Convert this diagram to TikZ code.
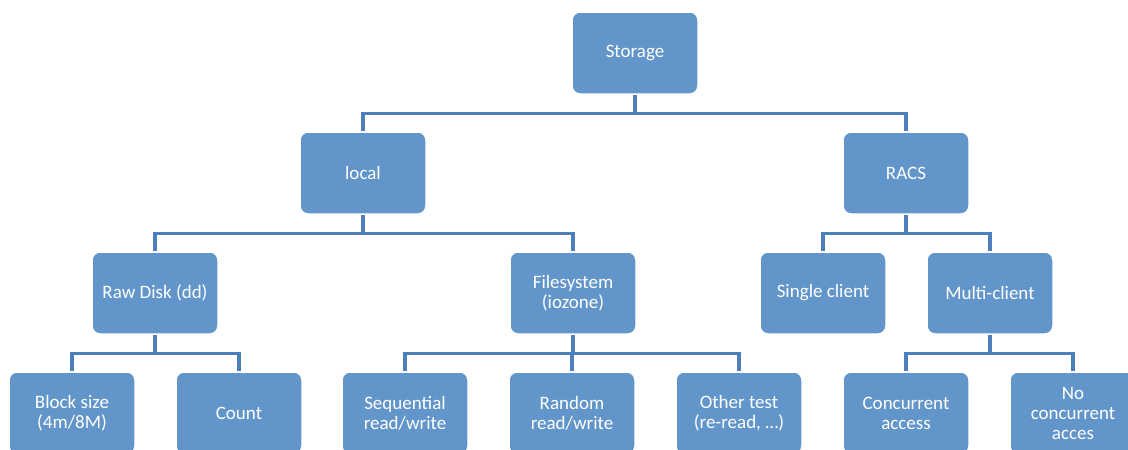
\documentclass[tikz,border=0pt]{standalone}
\usepackage{fontspec}
\setmainfont{Carlito}
\usetikzlibrary{positioning, calc}

\definecolor{boxblue}{RGB}{98,150,202}
\definecolor{lineblue}{RGB}{76,128,188}

\tikzset{
    box/.style={draw=white, line width=1.5pt, fill=boxblue, rounded corners=8pt,
        minimum width=126pt, minimum height=82pt, align=center, inner sep=2pt,
        text=white, font=\fontsize{19}{20}\selectfont},
    link/.style={draw=lineblue, line width=3.2pt}
}

\begin{document}
\begin{tikzpicture}[x=1pt, y=-1pt]
        \useasboundingbox (0,0) rectangle (1128,450);
        \clip (0,0) rectangle (1128,450);

        % Top level
        \node[box] (storage) at (635,53) {Storage};

        % Second level
        \node[box] (local) at (363,173) {local};
        \node[box] (racs) at (906,173) {RACS};

        % Third level
        \node[box] (rawdisk) at (155,293) {Raw Disk (dd)};
        \node[box] (filesys) at (573,293) {Filesystem\\(iozone)};
        \node[box] (single) at (823,293) {Single client};
        \node[box] (multi) at (990,293) {Multi-client};

        % Fourth level
        \node[box] (blocksize) at (72,413) {Block size\\(4m/8M)};
        \node[box] (count) at (239,413) {Count};
        \node[box] (seq) at (405,413) {Sequential\\read/write};
        \node[box] (rand) at (572,413) {Random\\read/write};
        \node[box] (other) at (739,413) {Other test\\(re-read, \dots)};
        \node[box] (concur) at (906,413) {Concurrent\\access};
        \node[box] (noconcur) at (1073,413) {No\\concurrent\\acces};

        % Connectors
        \draw[link] (storage.south) -- ++(0,19) -| (local.north);
        \draw[link] (storage.south) -- ++(0,19) -| (racs.north);

        \draw[link] (local.south) -- ++(0,19) -| (rawdisk.north);
        \draw[link] (local.south) -- ++(0,19) -| (filesys.north);
        \draw[link] (racs.south) -- ++(0,19) -| (single.north);
        \draw[link] (racs.south) -- ++(0,19) -| (multi.north);

        \draw[link] (rawdisk.south) -- ++(0,19) -| (blocksize.north);
        \draw[link] (rawdisk.south) -- ++(0,19) -| (count.north);
        \draw[link] (filesys.south) -- ++(0,19) -| (seq.north);
        \draw[link] (filesys.south) -- ++(0,19) -| (rand.north);
        \draw[link] (filesys.south) -- ++(0,19) -| (other.north);
        \draw[link] (multi.south) -- ++(0,19) -| (concur.north);
        \draw[link] (multi.south) -- ++(0,19) -| (noconcur.north);
    \end{tikzpicture}
\end{document}
